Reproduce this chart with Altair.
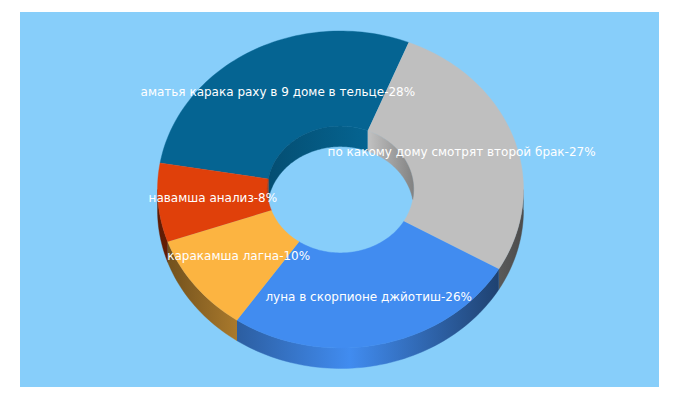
import math
import altair as alt
import pandas as pd

labels = [
    "аматья карака раху в 9 доме в тельце-28%",
    "по какому дому смотрят второй брак-27%",
    "луна в скорпионе джйотиш-26%",
    "каракамша лагна-10%",
    "навамша анализ-8%",
]
values = [28.4, 27.3, 26.2, 10.1, 8.0]
colors = ["#056492", "#BFBFBF", "#418CF0", "#FCB441", "#E0400A"]
START = -80.4          # clockwise from top, degrees
BG = "#87CEFA"

# Layout of the tilted ring
W, H = 639, 375
CX, CY = 320.5, 177.5
RX, RY = 183.0, 158.5
HOLE = 0.4
DEPTH = 20.5 / RY
xdom = [-CX / RX, (W - CX) / RX]
ydom = [-(H - CY) / RY, CY / RY]

OUTER_SHADE = [(-1.0, 0.42), (-0.57, 0.67), (0.05, 1.0), (0.864, 0.47), (1.0, 0.40)]
INNER_SHADE = [(-1.0, 0.78), (0.4, 1.0), (1.0, 0.68)]


def shade(anchors, x):
    for (a, fa), (b, fb) in zip(anchors, anchors[1:]):
        if x <= b:
            return fa + (fb - fa) * (x - a) / (b - a)
    return anchors[-1][1]


def tint(hex_color, f):
    r, g, b = (int(hex_color[i:i + 2], 16) for i in (1, 3, 5))
    return "#%02x%02x%02x" % (round(r * f), round(g * f), round(b * f))


def wall_gradient(color, anchors, x0, x1):
    xs = [x0] + [a for a, _ in anchors if x0 < a < x1] + [x1]
    stops = [
        alt.GradientStop(offset=(x - x0) / (x1 - x0), color=tint(color, shade(anchors, x)))
        for x in xs
    ]
    return alt.Gradient(gradient="linear", x1=0, x2=1, y1=0, y2=0, stops=stops)


def arc(a, b, r, dy=0.0):
    n = max(2, int(abs(b - a) / 1.5))
    return [
        (r * math.sin(math.radians(a + (b - a) * i / n)),
         r * math.cos(math.radians(a + (b - a) * i / n)) - dy)
        for i in range(n + 1)
    ]


def poly(points, fill):
    df = pd.DataFrame([{"k": i, "x": p[0], "y": p[1]} for i, p in enumerate(points)])
    return alt.Chart(df).mark_line(
        fill=fill, stroke=fill, strokeWidth=0.4, interpolate="linear"
    ).encode(
        x=alt.X("x:Q", axis=None, scale=alt.Scale(domain=xdom, nice=False, zero=False)),
        y=alt.Y("y:Q", axis=None, scale=alt.Scale(domain=ydom, nice=False, zero=False)),
        order=alt.Order("k:Q"),
    )


spans = []
a = START
for v in values:
    spans.append((a, a + v * 3.6))
    a += v * 3.6

walls, faces, inner = [], [], []
for (a, b), col in zip(spans, colors):
    faces.append(poly(arc(a, b, 1.0) + arc(b, a, HOLE), col))
    for shift in (360, 0, -360):
        # outer side wall: the part of the slice facing the viewer (90..270 degrees)
        lo, hi = max(a + shift, 90), min(b + shift, 270)
        if hi > lo:
            top = arc(lo, hi, 1.0)
            xs = [p[0] for p in top]
            walls.append(poly(top + arc(hi, lo, 1.0, DEPTH),
                              wall_gradient(col, OUTER_SHADE, min(xs), max(xs))))

        # inner wall: the far side of the hole (crescent inside the hole's ellipse)
        lo, hi = max(a + shift, -90), min(b + shift, 90)
        if hi > lo:
            n = max(4, int((hi - lo) / 1.0))
            up, down = [], []
            for i in range(n + 1):
                p = lo + (hi - lo) * i / n
                x, c = math.sin(math.radians(p)), math.cos(math.radians(p))
                up.append((HOLE * x, HOLE * c))
                down.append((HOLE * x, max(-HOLE * c, HOLE * c - DEPTH)))
            xs = [p[0] / HOLE for p in up]
            inner.append(poly(up + down[::-1],
                              wall_gradient(col, INNER_SHADE, min(xs), max(xs))))

mids = [(a + b) / 2 for a, b in spans]
label_df = pd.DataFrame({
    "label": labels,
    "x": [0.7 * math.sin(math.radians(m)) for m in mids],
    "y": [0.7 * math.cos(math.radians(m)) for m in mids],
})
text = alt.Chart(label_df).mark_text(
    color="white", font="DejaVu Sans", fontSize=12, align="center", baseline="middle", dy=-1
).encode(
    x=alt.X("x:Q", axis=None, scale=alt.Scale(domain=xdom, nice=False, zero=False)),
    y=alt.Y("y:Q", axis=None, scale=alt.Scale(domain=ydom, nice=False, zero=False)),
    text="label:N",
)

chart = alt.layer(*walls, *faces, *inner, text).properties(
    width=W, height=H,
    padding={"left": 12, "top": 4, "right": 0, "bottom": 0},
    autosize=alt.AutoSizeParams(type="none"),
    background="white",
).configure_view(fill=BG, stroke=None)

chart.save("out.html", embed_options={"renderer": "svg", "actions": False})
